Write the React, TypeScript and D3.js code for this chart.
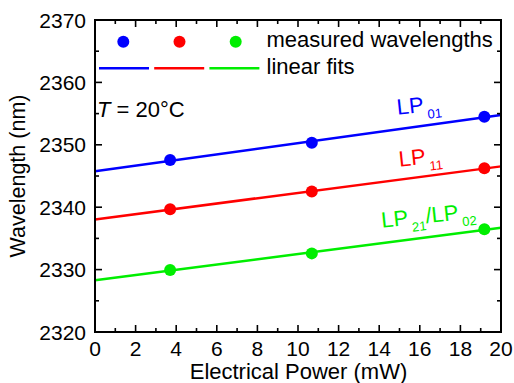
import React from "react";
import * as d3 from "d3";

const powers = [3.7, 10.68, 19.18];
const lp01 = [2347.56, 2350.34, 2354.5];
const lp11 = [2339.66, 2342.5, 2346.23];
const lp21 = [2329.94, 2332.6, 2336.45];
const seriesColors = ["#0000ff", "#ff0000", "#00ee00"];
const xTicks = [0, 2, 4, 6, 8, 10, 12, 14, 16, 18, 20];
const yTicks = [2320, 2330, 2340, 2350, 2360, 2370];
const labelMain = ["LP", "LP", "LP"];
const labelSub = ["01", "11", "21"];
const labelX = [14.9, 15.0, 14.14];
const labelY = [2354.8, 2346.5, 2336.7];

const W = 514, H = 383;
const L = 95, R = 501, T = 20, B = 332;
const FONT = "'Liberation Sans', Arial, sans-serif";

function fit(xs: number[], ys: number[]) {
  const mx = d3.mean(xs)!;
  const my = d3.mean(ys)!;
  let sxy = 0, sxx = 0;
  xs.forEach((x, i) => { sxy += (x - mx) * (ys[i] - my); sxx += (x - mx) ** 2; });
  const slope = sxy / sxx;
  return { slope, intercept: my - slope * mx };
}

export default function App() {
  const x = d3.scaleLinear().domain([0, 20]).range([L, R]);
  const y = d3.scaleLinear().domain([2320, 2370]).range([B, T]);
  const series = [lp01, lp11, lp21];
  const xMinor = d3.range(1, 20, 2);
  const yMinor = d3.range(2325, 2370, 10);

  return (
    <svg width={W} height={H} style={{ position: "absolute", left: 0, top: 0, display: "block", background: "#fff" }} fontFamily={FONT}>
      <rect x={0} y={0} width={W} height={H} fill="#fff" />
      {series.map((s, i) => {
        const f = fit(powers, s);
        return (
          <line key={"f" + i} x1={x(0)} x2={x(20)} y1={y(f.intercept)} y2={y(f.intercept + 20 * f.slope)}
            stroke={seriesColors[i]} strokeWidth={2.5} />
        );
      })}
      {series.map((s, i) =>
        s.map((v, j) => (
          <circle key={"p" + i + "-" + j} cx={x(powers[j])} cy={y(v)} r={6} fill={seriesColors[i]} />
        ))
      )}
      {xTicks.map((t) => (
        <g key={"xt" + t}>
          <line x1={x(t)} x2={x(t)} y1={B} y2={B - 7} stroke="#000" strokeWidth={1.6} />
          <line x1={x(t)} x2={x(t)} y1={T} y2={T + 7} stroke="#000" strokeWidth={1.6} />
          <text x={x(t)} y={356} fontSize={21} textAnchor="middle">{t}</text>
        </g>
      ))}
      {xMinor.map((t) => (
        <g key={"xm" + t}>
          <line x1={x(t)} x2={x(t)} y1={B} y2={B - 4} stroke="#000" strokeWidth={1.6} />
          <line x1={x(t)} x2={x(t)} y1={T} y2={T + 4} stroke="#000" strokeWidth={1.6} />
        </g>
      ))}
      {yTicks.map((t) => (
        <g key={"yt" + t}>
          <line x1={L} x2={L + 7} y1={y(t)} y2={y(t)} stroke="#000" strokeWidth={1.6} />
          <line x1={R} x2={R - 7} y1={y(t)} y2={y(t)} stroke="#000" strokeWidth={1.6} />
          <text x={86} y={y(t) + 7.5} fontSize={21} textAnchor="end">{t}</text>
        </g>
      ))}
      {yMinor.map((t) => (
        <g key={"ym" + t}>
          <line x1={L} x2={L + 4} y1={y(t)} y2={y(t)} stroke="#000" strokeWidth={1.6} />
          <line x1={R} x2={R - 4} y1={y(t)} y2={y(t)} stroke="#000" strokeWidth={1.6} />
        </g>
      ))}
      <rect x={L} y={T} width={R - L} height={B - T} fill="none" stroke="#000" strokeWidth={2} />
      <text x={(L + R) / 2 + 0.5} y={379} fontSize={22} textAnchor="middle">Electrical Power (mW)</text>
      <text transform={`translate(25,${(T + B) / 2}) rotate(-90)`} fontSize={21.5} textAnchor="middle">Wavelength (nm)</text>
      {seriesColors.map((c, i) => (
        <g key={"lg" + i}>
          <circle cx={123.3 + i * 56.2} cy={41.7} r={6} fill={c} />
          <line x1={99 + i * 55.2} x2={149 + i * 55.2} y1={68.3} y2={68.3} stroke={c} strokeWidth={2.5} />
        </g>
      ))}
      <text x={266.5} y={46.7} fontSize={22}>measured wavelengths</text>
      <text x={266.5} y={74.3} fontSize={22}>linear fits</text>
      <text x={97} y={117} fontSize={22}>
        <tspan fontStyle="italic">T</tspan> = 20°C
      </text>
      {labelMain.map((m, i) => (
        <text key={"lb" + i} transform={`translate(${x(labelX[i])},${y(labelY[i])}) rotate(-6)`} fontSize={22} fill={seriesColors[i]}>
          {m}
          <tspan fontSize={13} dy={7} dx={3}>{labelSub[i]}</tspan>
          {i === 2 ? (
            <>
              <tspan fontSize={22} dy={-7}>/LP</tspan>
              <tspan fontSize={13} dy={7} dx={3}>02</tspan>
            </>
          ) : null}
        </text>
      ))}
    </svg>
  );
}
